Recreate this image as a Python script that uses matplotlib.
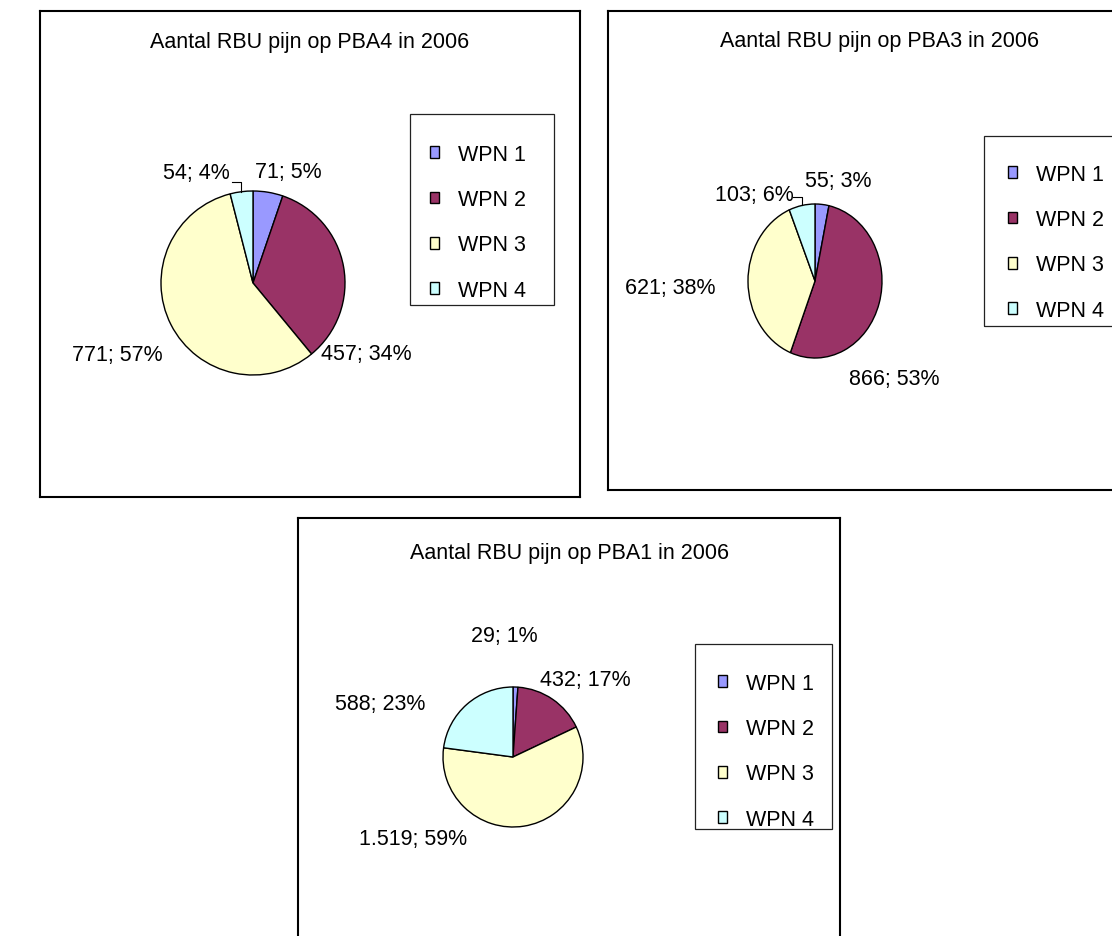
import numpy as np
import matplotlib.pyplot as plt
from matplotlib.patches import Rectangle

plt.rcParams['font.family'] = ['Liberation Sans', 'DejaVu Sans']

# data
categories = ['WPN 1', 'WPN 2', 'WPN 3', 'WPN 4']
colors = ['#9999FF', '#993366', '#FFFFCC', '#CCFFFF']

titles = ['Aantal RBU pijn op PBA4 in 2006',
          'Aantal RBU pijn op PBA3 in 2006',
          'Aantal RBU pijn op PBA1 in 2006']
pba4 = [71, 457, 771, 54]
pba3 = [55, 866, 621, 103]
pba1 = [29, 432, 1519, 588]
labels_pba4 = ['71; 5%', '457; 34%', '771; 57%', '54; 4%']
labels_pba3 = ['55; 3%', '866; 53%', '621; 38%', '103; 6%']
labels_pba1 = ['29; 1%', '432; 17%', '1.519; 59%', '588; 23%']

W, H = 1112, 937
FS = 15.5
fig = plt.figure(figsize=(W / 100, H / 100), dpi=100)


def fig_rect(x0, y0, x1, y1, lw, color='black'):
    r = Rectangle((x0 / W, 1 - y1 / H), (x1 - x0) / W, (y1 - y0) / H,
                  transform=fig.transFigure, fill=False, lw=lw, ec=color)
    fig.add_artist(r)


# layout of each panel (pixels): box, pie centre, radii, title y,
# legend frame, legend anchor, label positions (in pie radii), leader start
panels = [
    dict(values=pba4, labels=labels_pba4, title=titles[0],
         box=(40, 12, 580, 498), c=(253, 284), r=(92, 92), ty=42,
         leg=(410, 115, 554, 306), anchor=(419, 134),
         pos=[(0.38, 1.21), (1.23, -0.77), (-1.47, -0.78), (-0.62, 1.20)],
         leader=(-0.23, 1.10)),
    dict(values=pba3, labels=labels_pba3, title=titles[1],
         box=(608, 12, 1150, 491), c=(815, 282), r=(67, 77), ty=42,
         leg=(984, 137, 1150, 327), anchor=(997, 154),
         pos=[(0.34, 1.30), (1.19, -1.27), (-2.16, -0.08), (-0.91, 1.12)],
         leader=(-0.33, 1.09)),
    dict(values=pba1, labels=labels_pba1, title=titles[2],
         box=(298, 519, 840, 960), c=(513, 758), r=(70, 70), ty=553,
         leg=(695, 645, 832, 830), anchor=(707, 663),
         pos=[(-0.13, 1.73), (1.03, 1.10), (-1.43, -1.17), (-1.90, 0.76)],
         leader=None),
]

for p in panels:
    x0, y0, x1, y1 = p['box']
    cx, cy = p['c']
    rx, ry = p['r']
    ax = fig.add_axes([x0 / W, 1 - y1 / H, (x1 - x0) / W, (y1 - y0) / H])
    wedges, _ = ax.pie(p['values'], colors=colors, startangle=90,
                       counterclock=False, radius=1,
                       wedgeprops=dict(edgecolor='black', linewidth=1.0))
    ax.set_aspect('auto')
    ax.set_xlim((x0 - cx) / rx, (x1 - cx) / rx)
    ax.set_ylim((cy - y1) / ry, (cy - y0) / ry)
    ax.set_frame_on(True)
    for s in ax.spines.values():
        s.set_linewidth(1.5)
        s.set_color('black')

    # title
    ax.text((0.5 * (x0 + x1) - cx) / rx, (cy - p['ty']) / ry, p['title'],
            ha='center', va='center', fontsize=FS)

    # data labels
    for (dx, dy), lab in zip(p['pos'], p['labels']):
        ax.text(dx, dy, lab, ha='center', va='center', fontsize=FS)

    # leader line for the small WPN 4 slice
    if p['leader'] is not None:
        w = wedges[3]
        th = np.deg2rad(0.5 * (w.theta1 + w.theta2))
        tx, ty = np.cos(th), np.sin(th)
        sx, sy = p['leader']
        ax.plot([sx, tx, tx], [sy, sy, ty], color='black', lw=0.8)

    # legend
    lx0, ly0, lx1, ly1 = p['leg']
    fig_rect(lx0, ly0, lx1, ly1, lw=0.9, color='#222222')
    ax.legend(wedges, categories, loc='upper left',
              bbox_to_anchor=(p['anchor'][0] / W, 1 - p['anchor'][1] / H),
              bbox_transform=fig.transFigure, frameon=False, borderpad=0,
              handlelength=0.45, handleheight=0.45, handletextpad=0.85,
              labelspacing=1.13, fontsize=FS)

fig.savefig('out.png', dpi=100)
